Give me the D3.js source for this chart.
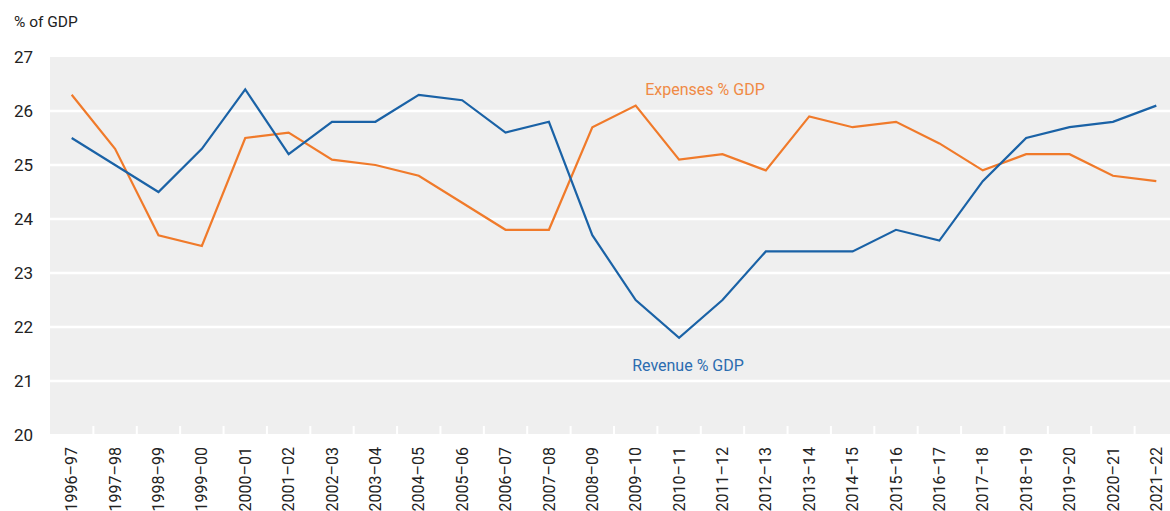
<!DOCTYPE html>
<html>
<head>
<meta charset="utf-8">
<script src="https://cdn.jsdelivr.net/npm/d3@7"></script>
<style>
    body { margin: 0; background: #fff; }
    svg text { font-family: "Roboto", "Liberation Sans", sans-serif; fill: #222; }
</style>
</head>
<body>
<svg id="chart" width="1170" height="511"></svg>
<script>
// Data
const years = ['1996–97', '1997–98', '1998–99', '1999–00', '2000–01', '2001–02', '2002–03',
    '2003–04', '2004–05', '2005–06', '2006–07', '2007–08', '2008–09', '2009–10', '2010–11',
    '2011–12', '2012–13', '2013–14', '2014–15', '2015–16', '2016–17', '2017–18', '2018–19',
    '2019–20', '2020–21', '2021–22'];
const revenue = [25.5, 25.0, 24.5, 25.3, 26.4, 25.2, 25.8, 25.8, 26.3, 26.2, 25.6, 25.8, 23.7,
    22.5, 21.8, 22.5, 23.4, 23.4, 23.4, 23.8, 23.6, 24.7, 25.5, 25.7, 25.8, 26.1];
const expenses = [26.3, 25.3, 23.7, 23.5, 25.5, 25.6, 25.1, 25.0, 24.8, 24.3, 23.8, 23.8, 25.7,
    26.1, 25.1, 25.2, 24.9, 25.9, 25.7, 25.8, 25.4, 24.9, 25.2, 25.2, 24.8, 24.7];
const yTicks = [20, 21, 22, 23, 24, 25, 26, 27];

const svg = d3.select('#chart');
const plotLeft = 50, plotRight = 1178, plotTop = 57, plotBottom = 435;

const x = d3.scaleBand().domain(years).range([plotLeft, plotRight]);
const y = d3.scaleLinear().domain([20, 27]).range([plotBottom, plotTop]);

// Plot background
svg.append('rect')
    .attr('x', plotLeft).attr('y', plotTop)
    .attr('width', plotRight - plotLeft).attr('height', plotBottom - plotTop - 1)
    .attr('fill', '#efefef');

// Gridlines
svg.append('g')
    .selectAll('line')
    .data(yTicks.filter(d => d > 20 && d < 27))
    .enter()
    .append('line')
    .attr('x1', plotLeft).attr('x2', plotRight)
    .attr('y1', d => y(d)).attr('y2', d => y(d))
    .attr('stroke', '#fff')
    .attr('stroke-width', 2.5);

// Y labels
svg.append('g')
    .selectAll('text')
    .data(yTicks)
    .enter()
    .append('text')
    .attr('x', 14)
    .attr('y', d => y(d))
    .attr('dy', '0.35em')
    .style('font-size', '17px')
    .text(d => d);

svg.append('text')
    .attr('x', 14).attr('y', 22)
    .attr('dy', '0.35em')
    .style('font-size', '15.5px')
    .text('% of GDP');

// X tick marks (white, between categories)
svg.append('g')
    .selectAll('line')
    .data(years.slice(1))
    .enter()
    .append('line')
    .attr('x1', d => x(d)).attr('x2', d => x(d))
    .attr('y1', plotBottom - 9).attr('y2', plotBottom)
    .attr('stroke', '#fff')
    .attr('stroke-width', 2);

// X labels
svg.append('g')
    .selectAll('text')
    .data(years)
    .enter()
    .append('text')
    .attr('transform', d => `translate(${x(d) + x.bandwidth() / 2},447) rotate(-90)`)
    .attr('text-anchor', 'end')
    .attr('dy', '0.35em')
    .style('font-size', '16px')
    .text(d => d);

// Lines
const line = d3.line()
    .x((d, i) => x(years[i]) + x.bandwidth() / 2)
    .y(d => y(d));

svg.append('path')
    .datum(expenses)
    .attr('d', line)
    .attr('fill', 'none')
    .attr('stroke', '#f07a2a')
    .attr('stroke-width', 2.2);

svg.append('path')
    .datum(revenue)
    .attr('d', line)
    .attr('fill', 'none')
    .attr('stroke', '#1a62a6')
    .attr('stroke-width', 2.2);

// Series labels
svg.append('text')
    .attr('x', 705).attr('y', 89)
    .attr('dy', '0.35em')
    .attr('text-anchor', 'middle')
    .style('font-size', '16px')
    .style('fill', '#f08a45')
    .text('Expenses % GDP');

svg.append('text')
    .attr('x', 688).attr('y', 365)
    .attr('dy', '0.35em')
    .attr('text-anchor', 'middle')
    .style('font-size', '16px')
    .style('fill', '#2b6cb0')
    .text('Revenue % GDP');
</script>
</body>
</html>
